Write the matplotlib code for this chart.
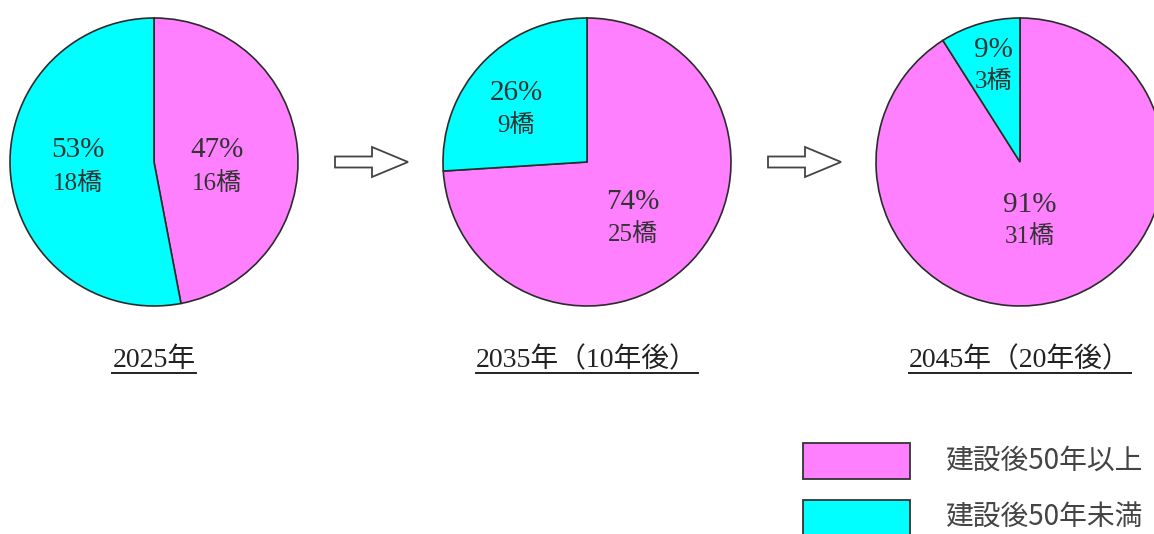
import matplotlib
matplotlib.use("Agg")
import matplotlib.pyplot as plt
from matplotlib.patches import Polygon, Rectangle
import numpy as np

# ---- data ----
years = ["2025年", "2035年（10年後）", "2045年（20年後）"]
categories = ["建設後50年以上", "建設後50年未満"]
over50_pct = [47, 74, 91]
under50_pct = [53, 26, 9]
over50_count = [16, 25, 31]
under50_count = [18, 9, 3]

# ---- style ----
W, H = 1154, 534
colors = ["#FF80FF", "#00FFFF"]
edge = "#2b2b2b"
txt = "#333333"
serif = ["Liberation Serif", "Noto Sans CJK JP"]
sans = ["Noto Sans CJK JP", "DejaVu Sans"]
centers_x = [154, 587, 1020]
cy = H - 162
R = 144
# radial distance (fraction of radius) for label of [over50, under50] per pie
label_r = [(0.44, 0.53), (0.49, 0.625), (0.395, 0.71)]
label_ang_off = [(-7.2, -3.9), (-6.1, 5.2), (-6.1, -0.9)]
label_gap = [17, 16.5, 16]

fig = plt.figure(figsize=(W / 100, H / 100), dpi=100)
ax = fig.add_axes([0, 0, 1, 1])
ax.set_xlim(0, W)
ax.set_ylim(0, H)
ax.set_aspect("equal")
ax.axis("off")

for i in range(3):
    vals = [over50_pct[i], under50_pct[i]]
    cnts = [over50_count[i], under50_count[i]]
    wedges, _ = ax.pie(vals, colors=colors, startangle=90, counterclock=False,
                       center=(centers_x[i], cy), radius=R,
                       wedgeprops=dict(edgecolor=edge, linewidth=1.2))
    for j, w in enumerate(wedges):
        th = (w.theta1 + w.theta2) / 2 + label_ang_off[i][j]
        r = label_r[i][j] * R
        x = centers_x[i] + r * np.cos(np.radians(th))
        y = cy + r * np.sin(np.radians(th))
        ax.text(x, y + label_gap[i], f"{vals[j]}%", ha="center", va="center_baseline",
                fontsize=21, family=serif, color=txt)
        ax.text(x, y - label_gap[i], f"{cnts[j]}橋", ha="center", va="center_baseline",
                fontsize=18, family=serif, color=txt)
ax.set_xlim(0, W)
ax.set_ylim(0, H)

# arrows between pies
for i in range(2):
    x0 = centers_x[i] + 181
    L = 73
    sh = 5.5
    hh = 15
    hx = x0 + 37
    pts = [(x0, cy + sh), (hx, cy + sh), (hx, cy + hh), (x0 + L, cy),
           (hx, cy - hh), (hx, cy - sh), (x0, cy - sh)]
    ax.add_patch(Polygon(pts, closed=True, facecolor="white",
                         edgecolor="#444444", linewidth=1.3))

# year labels with underline
fig.canvas.draw()
renderer = fig.canvas.get_renderer()
for i in range(3):
    t = ax.text(centers_x[i], H - 360, years[i], ha="center", va="center",
                fontsize=20, family=serif, color="#222222")
    bb = t.get_window_extent(renderer)
    (x0, y0), (x1, y1) = ax.transData.inverted().transform([[bb.x0, bb.y0], [bb.x1, bb.y1]])
    ax.plot([x0, x1], [H - 373, H - 373], color="#222222", lw=1.4)

# legend
for k, (cat, c) in enumerate(zip(categories, colors)):
    ytop = H - (443 + 57 * k)
    ax.add_patch(Rectangle((803, ytop - 36), 107, 36, facecolor=c,
                           edgecolor="#333333", linewidth=1.3, clip_on=False))
    ax.text(945, ytop - 18, cat, ha="left", va="center", fontsize=20,
            family=sans, color="#444444")

fig.savefig("out.png", dpi=100)
